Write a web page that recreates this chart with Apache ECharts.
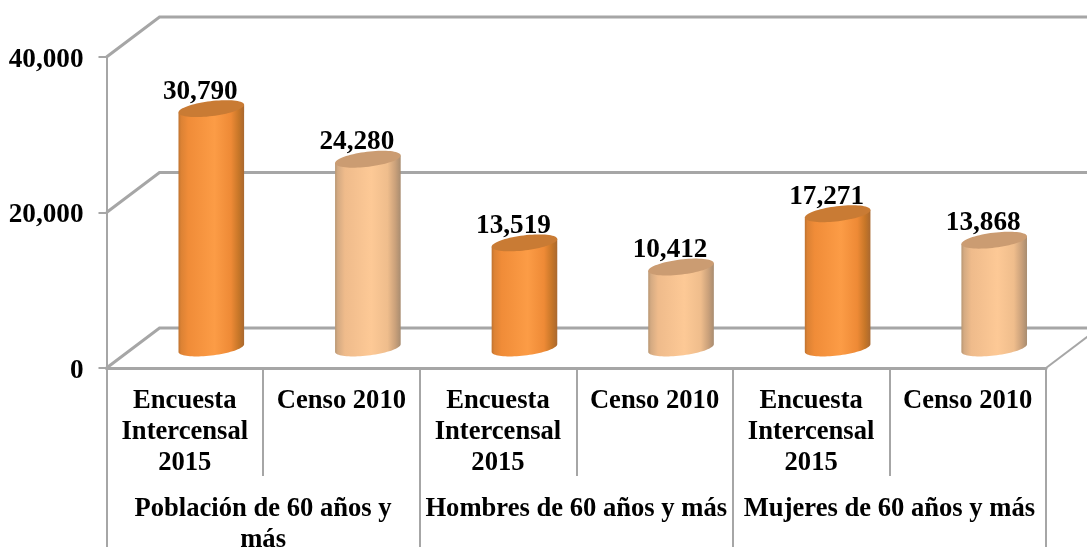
<!DOCTYPE html>
<html>
<head>
<meta charset="utf-8">
<style>html,body{margin:0;padding:0;background:#fff}#c{width:1087px;height:547px}</style>
<script src="https://cdn.jsdelivr.net/npm/echarts@6/dist/echarts.min.js"></script>
</head>
<body>
<div id="c"></div>
<script>
var categories = ["Encuesta\nIntercensal\n2015","Censo 2010","Encuesta\nIntercensal\n2015","Censo 2010","Encuesta\nIntercensal\n2015","Censo 2010"];
var groups = ["Población de 60 años y\nmás","Hombres de 60 años y más","Mujeres de 60 años y más"];
var values = [30790,24280,13519,10412,17271,13868];
var yTicks = [0,20000,40000];

var DEPTH_X = 53, DEPTH_Y = 40, TILT = 7*Math.PI/180, RY = 7.5;
var GRAY = '#a6a6a6';
var FONT = '"Liberation Serif","Times New Roman",serif';
var FS = 26.6, FS_NUM = 27.2;

var chart = echarts.init(document.getElementById('c'), null, {renderer:'canvas'});

function ell(cx, cy, a, b, t){
  var c = Math.cos(TILT), s = Math.sin(TILT), x = a*Math.cos(t), y = b*Math.sin(t);
  return [cx + x*c + y*s, cy - x*s + y*c];
}
function cylinderFill(i){
  var stops = i % 2 === 0
    ? [[0,'#bf7330'],[0.04,'#dc8234'],[0.15,'#f08c38'],[0.55,'#fc9c46'],[0.8,'#ee8a36'],[0.92,'#c67628'],[1,'#a9682f']]
    : [[0,'#b89672'],[0.04,'#d4aa82'],[0.15,'#efbb8b'],[0.55,'#fdc996'],[0.8,'#efbd8c'],[0.92,'#c9a07a'],[1,'#a88c70']];
  return new echarts.graphic.LinearGradient(0,0,1,0,stops.map(function(s){return {offset:s[0],color:s[1]};}));
}
function renderCylinder(params, api){
  var i = params.dataIndex;
  var p0 = api.coord([i, 0]), p1 = api.coord([i, api.value(1)]);
  var a = api.size([1,0])[0] * 0.211;
  var cx = p0[0] + DEPTH_X/2;
  var baseY = p0[1] - DEPTH_Y/2, topY = p1[1] - DEPTH_Y/2;
  var t0 = Math.atan(RY*Math.tan(TILT)/a), body = [], top = [], k;
  for (k = 0; k <= 40; k++) body.push(ell(cx, baseY, a, RY, t0 + Math.PI*k/40));
  body.push(ell(cx, topY, a, RY, t0 + Math.PI));
  body.push(ell(cx, topY, a, RY, t0));
  for (k = 0; k < 72; k++) top.push(ell(cx, topY, a, RY, Math.PI*2*k/72));
  return {type:'group', children:[
    {type:'polygon', shape:{points:body}, style:{fill:cylinderFill(i)}},
    {type:'polygon', shape:{points:top}, style:{fill: i%2===0 ? '#c97b34' : '#cb9c72'}},
    {type:'text', x:cx-11, y:topY-17, style:{text:values[i].toLocaleString('en-US'), font:'bold '+FS_NUM+'px '+FONT, fill:'#000', align:'center', verticalAlign:'middle'}}
  ]};
}
function renderWall(params, api){
  var v = api.value(1), cs = params.coordSys, y = api.coord([0, v])[1];
  var l = cs.x, r = cs.x + cs.width;
  var children = [{type:'polyline', shape:{points:[[l,y],[l+DEPTH_X,y-DEPTH_Y],[r+DEPTH_X,y-DEPTH_Y]]},
    style:{stroke:GRAY, lineWidth:3, fill:null}}];
  if (v === 0) children.push({type:'line', shape:{x1:r,y1:y,x2:r+DEPTH_X,y2:y-DEPTH_Y}, style:{stroke:GRAY, lineWidth:2}});
  return {type:'group', children:children};
}
var labelStyle = {fontFamily:FONT, fontWeight:'bold', fontSize:FS, color:'#000', lineHeight:31, interval:0, hideOverlap:false};
chart.setOption({
  animation:false,
  backgroundColor:'#fff',
  grid:{left:106.5, right:41, top:57, bottom:179, containLabel:false, outerBoundsMode:'none'},
  xAxis:[
    {type:'category', data:categories, position:'bottom',
     axisLine:{show:true, lineStyle:{color:GRAY, width:3}},
     axisTick:{show:true, length:108, lineStyle:{color:GRAY, width:2}},
     axisLabel:Object.assign({margin:18}, labelStyle)},
    {type:'category', data:groups, position:'bottom',
     axisLine:{show:false},
     axisTick:{show:true, length:179, lineStyle:{color:GRAY, width:2}},
     axisLabel:Object.assign({margin:126}, labelStyle)}
  ],
  yAxis:{type:'value', min:0, max:40000, interval:20000,
     axisLine:{show:true, lineStyle:{color:GRAY, width:2}},
     axisTick:{show:true, length:8, lineStyle:{color:GRAY, width:2}},
     splitLine:{show:false},
     axisLabel:{margin:23,
       rich:{n:{fontFamily:FONT, fontWeight:'bold', fontSize:FS_NUM, color:'#000', padding:[5,0,0,0]}},
       formatter:function(v){return '{n|'+v.toLocaleString('en-US')+'}';}}},
  series:[
    {type:'custom', name:'wall', renderItem:renderWall, z:1, silent:true,
     data:yTicks.map(function(v){return [0,v];}), encode:{x:0,y:1}},
    {type:'custom', name:'values', renderItem:renderCylinder, z:3,
     data:values.map(function(v,i){return [i,v];}), encode:{x:0,y:1}}
  ]
});
</script>
</body>
</html>
